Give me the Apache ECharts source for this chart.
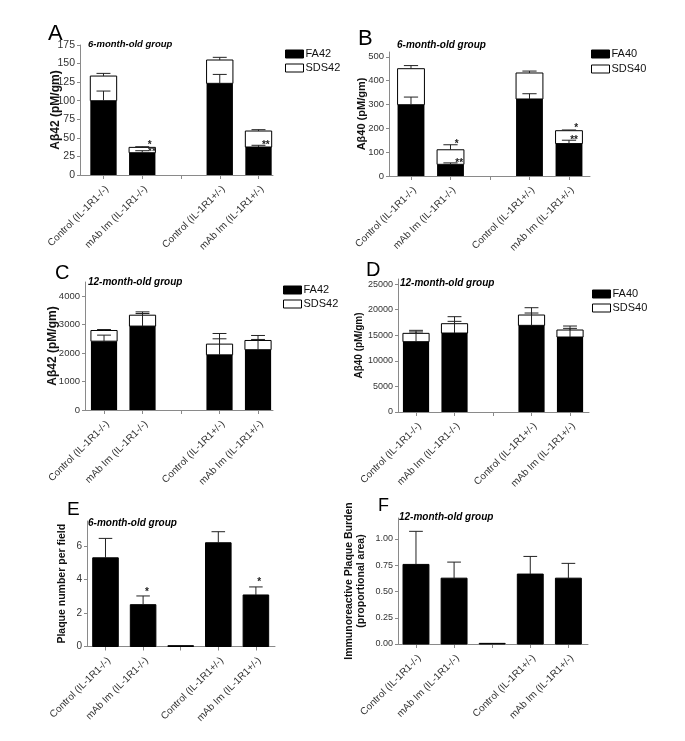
<!DOCTYPE html>
<html><head><meta charset="utf-8">
<script src="https://cdn.jsdelivr.net/npm/echarts@6/dist/echarts.min.js"></script>
<style>html,body{margin:0;padding:0;background:#fff}#c{width:685px;height:741px}</style>
</head><body><div id="c"></div>
<script>
// ---------- DATA ----------
const categories = ['Control (IL-1R1-/-)', 'mAb Im (IL-1R1-/-)', '', 'Control (IL-1R1+/-)', 'mAb Im (IL-1R1+/-)'];

// Panel A: 6-month-old, Abeta42 (pM/gm)
const aFA      = [100, 30, null, 123.4, 37.7];
const aFAerr   = [13, 2.7, null, 12, 2.3];
const aSDS     = [33.2, 7.2, null, 31.4, 21.5];
const aSDSerr  = [3.6, 0.9, null, 3.6, 1.8];
const aTicks   = [0, 25, 50, 75, 100, 125, 150, 175];
const aStars   = [[1.19, 40.4, '*'], [1.25, 30.6, '**'], [4.19, 40, '**']];

// Panel B: 6-month-old, Abeta40 (pM/gm)
const bFA      = [299, 49, null, 323, 136];
const bFAerr   = [32, 6, null, 22, 14];
const bSDS     = [151, 61, null, 109, 54];
const bSDSerr  = [13, 21, null, 8, 3];
const bTicks   = [0, 100, 200, 300, 400, 500];
const bStars   = [[1.16, 131.6, '*'], [1.22, 53, '**'], [4.18, 199.6, '*'], [4.13, 150.6, '**']];

// Panel C: 12-month-old, Abeta42 (pM/gm)
const cFA      = [2420, 2950, null, 1940, 2120];
const cFAerr   = [212, 442, null, 563, 360];
const cSDS     = [375, 383, null, 376, 324];
const cSDSerr  = [35, 117, null, 374, 176];
const cTicks   = [0, 1000, 2000, 3000, 4000];

// Panel D: 12-month-old, Abeta40 (pM/gm)
const dFA      = [13750, 15440, null, 16940, 14660];
const dFAerr   = [1900, 2280, null, 2410, 1690];
const dSDS     = [1625, 1824, null, 2018, 1366];
const dSDSerr  = [590, 1370, null, 1430, 780];
const dTicks   = [0, 5000, 10000, 15000, 20000, 25000];

// Panel E: 6-month-old, plaque number per field
const eMean    = [5.3, 2.5, 0.05, 6.2, 3.08];
const eErr     = [1.16, 0.52, 0, 0.66, 0.48];
const eTicks   = [0, 2, 4, 6];
const eStars   = [[1.1, 3.27, '*'], [4.09, 3.83, '*']];

// Panel F: 12-month-old, immunoreactive plaque burden
const fMean    = [0.758, 0.627, 0.006, 0.666, 0.627];
const fErr     = [0.315, 0.153, 0, 0.168, 0.141];
const fTicks   = [0, 0.25, 0.5, 0.75, 1.0];

// ---------- LAYOUT / STYLE ----------
const FONT = '"Liberation Sans", Arial, Helvetica, sans-serif';
const AX = '#8a8a8a';
const BAR_FRAC = 0.68, CAP_FRAC = 0.18;

const grids = [
  {left: 80,  top: 45,  width: 193, height: 130},
  {left: 389, top: 52,  width: 201, height: 124},
  {left: 85,  top: 282, width: 188, height: 128},
  {left: 398, top: 279, width: 191, height: 133},
  {left: 87,  top: 521, width: 188, height: 125.5},
  {left: 398, top: 518, width: 190, height: 126}
];
const xRanges = [[-0.606, 4.374], [-0.557, 4.532], [-0.494, 4.389], [-0.468, 4.493], [-0.492, 4.508], [-0.472, 4.515]];
const yCfg = [
  {max: 175,   ticks: aTicks, fs: 10.5, name: 'A\u03b242 (pM/gm)', nameSize: 12, gap: 18},
  {max: 520,   ticks: bTicks, fs: 9.5,  name: 'A\u03b240 (pM/gm)', nameSize: 11, gap: 21},
  {max: 4500,  ticks: cTicks, fs: 9.5,  name: 'A\u03b242 (pM/gm)', nameSize: 12, gap: 26},
  {max: 26000, ticks: dTicks, fs: 9,    name: 'A\u03b240 (pM/gm)', nameSize: 10, gap: 33},
  {max: 7.5,   ticks: eTicks, fs: 10,   name: 'Plaque number per field', nameSize: 10.5, gap: 19},
  {max: 1.2,   ticks: fTicks, fs: 9,    name: 'Immunoreactive Plaque Burden\n(proportional area)', nameSize: 10.5, gap: 31, fmt: v => v.toFixed(2)}
];

function rectItem(fill, stroke) {
  return function (params, api) {
    const x = api.value(0);
    const p0 = api.coord([x, api.value(1)]);
    const p1 = api.coord([x, api.value(2)]);
    const w = api.size([1, 0])[0] * BAR_FRAC;
    return {type: 'rect',
      shape: {x: p0[0] - w / 2, y: Math.min(p0[1], p1[1]), width: w, height: Math.abs(p0[1] - p1[1])},
      style: {fill: fill, stroke: stroke || null, lineWidth: stroke ? 1 : 0}};
  };
}
function errItem(params, api) {
  const x = api.value(0);
  const p0 = api.coord([x, api.value(1)]);
  const p1 = api.coord([x, api.value(2)]);
  const hw = api.size([1, 0])[0] * CAP_FRAC;
  return {type: 'group', children: [
    {type: 'line', shape: {x1: p0[0], y1: p0[1], x2: p1[0], y2: p1[1]}, style: {stroke: '#222', lineWidth: 1}},
    {type: 'line', shape: {x1: p1[0] - hw, y1: p1[1], x2: p1[0] + hw, y2: p1[1]}, style: {stroke: '#222', lineWidth: 1}}
  ]};
}
function starSeries(gi, stars) {
  return {type: 'custom', xAxisIndex: gi, yAxisIndex: gi, silent: true, z: 5,
    data: stars.map(s => [s[0], s[1]]),
    renderItem: function (params, api) {
      const p = api.coord([api.value(0), api.value(1)]);
      return {type: 'text', x: p[0], y: p[1],
        style: {text: stars[params.dataIndex][2], font: 'bold 10px ' + FONT, fill: '#222', align: 'center', verticalAlign: 'middle'}};
    }};
}
function stacked(gi, names, fa, faErr, sds, sdsErr, stars) {
  const faData = [], sdsData = [], errData = [];
  fa.forEach((v, i) => {
    if (v == null) return;
    const t = v + sds[i];
    faData.push([i, 0, v]);
    sdsData.push([i, v, t]);
    errData.push([i, v, v + faErr[i]]);
    errData.push([i, t, t + sdsErr[i]]);
  });
  const out = [
    {type: 'custom', name: names[0], xAxisIndex: gi, yAxisIndex: gi, data: faData, renderItem: rectItem('#000'), itemStyle: {color: '#000'}},
    {type: 'custom', name: names[1], xAxisIndex: gi, yAxisIndex: gi, data: sdsData, renderItem: rectItem('#fff', '#000'), itemStyle: {color: '#fff', borderColor: '#000'}},
    {type: 'custom', xAxisIndex: gi, yAxisIndex: gi, data: errData, renderItem: errItem, silent: true, z: 3}
  ];
  if (stars) out.push(starSeries(gi, stars));
  return out;
}
function simple(gi, mean, err, stars) {
  const bars = [], errs = [];
  mean.forEach((v, i) => { bars.push([i, 0, v]); if (err[i] > 0) errs.push([i, v, v + err[i]]); });
  const out = [
    {type: 'custom', xAxisIndex: gi, yAxisIndex: gi, data: bars, renderItem: rectItem('#000', '#000'), itemStyle: {color: '#000'}},
    {type: 'custom', xAxisIndex: gi, yAxisIndex: gi, data: errs, renderItem: errItem, silent: true, z: 3}
  ];
  if (stars) out.push(starSeries(gi, stars));
  return out;
}

const xAxes = grids.map((g, i) => ({
  type: 'value', gridIndex: i, min: xRanges[i][0], max: xRanges[i][1],
  axisLine: {show: true, onZero: false, lineStyle: {color: AX, width: 1}},
  axisTick: {show: true, customValues: [0, 1, 2, 3, 4], length: 4, lineStyle: {color: AX}},
  axisLabel: {customValues: [0, 1, 2, 3, 4], formatter: v => categories[Math.round(v)] || '',
    rotate: 45, verticalAlign: 'top', margin: 9, fontSize: 10, color: '#333', fontFamily: FONT},
  splitLine: {show: false}
}));
const yAxes = yCfg.map((c, i) => ({
  type: 'value', gridIndex: i, min: 0, max: c.max,
  axisLine: {show: true, onZero: false, lineStyle: {color: AX, width: 1}},
  axisTick: {show: true, customValues: c.ticks, length: 3, lineStyle: {color: AX}},
  axisLabel: {customValues: c.ticks, formatter: c.fmt || (v => String(v)), margin: 5, fontSize: c.fs, color: '#333', fontFamily: FONT},
  splitLine: {show: false},
  name: c.name, nameLocation: 'middle', nameGap: c.gap, nameMoveOverlap: false,
  nameTextStyle: {fontSize: c.nameSize, fontWeight: 'bold', color: '#111', fontFamily: FONT, lineHeight: 12, align: 'center'}
}));

function legend(left, top, gap, names) {
  return {left: left, top: top, orient: 'vertical', itemWidth: 18, itemHeight: 8, itemGap: gap, padding: 0,
    selectedMode: false, icon: 'rect',
    textStyle: {fontSize: 11, color: '#111', fontFamily: FONT, padding: [0, 0, 0, -3]},
    data: [
      {name: names[0], itemStyle: {color: '#000', borderColor: '#000', borderWidth: 1}},
      {name: names[1], itemStyle: {color: '#fff', borderColor: '#000', borderWidth: 1}}
    ]};
}

function txt(x, y, s, font) {
  return {type: 'text', x: x, y: y, silent: true,
    style: {text: s, font: font, fill: '#000', align: 'left', verticalAlign: 'middle'}};
}
const graphics = [
  txt(48, 33.5, 'A', '22px ' + FONT),
  txt(358, 38.5, 'B', '22px ' + FONT),
  txt(55, 273.5, 'C', '20px ' + FONT),
  txt(366, 270, 'D', '20px ' + FONT),
  txt(67, 510, 'E', '19px ' + FONT),
  txt(378, 506.5, 'F', '18px ' + FONT),
  txt(88, 44, '6-month-old group', 'italic bold 9.5px ' + FONT),
  txt(397, 45.5, '6-month-old group', 'italic bold 10px ' + FONT),
  txt(88, 282.5, '12-month-old group', 'italic bold 10px ' + FONT),
  txt(400, 283, '12-month-old group', 'italic bold 10px ' + FONT),
  txt(88, 523, '6-month-old group', 'italic bold 10px ' + FONT),
  txt(399, 517, '12-month-old group', 'italic bold 10px ' + FONT)
];

const series = [].concat(
  stacked(0, ['FA42', 'SDS42'], aFA, aFAerr, aSDS, aSDSerr, aStars),
  stacked(1, ['FA40', 'SDS40'], bFA, bFAerr, bSDS, bSDSerr, bStars),
  stacked(2, ['FA42', 'SDS42'], cFA, cFAerr, cSDS, cSDSerr, null),
  stacked(3, ['FA40', 'SDS40'], dFA, dFAerr, dSDS, dSDSerr, null),
  simple(4, eMean, eErr, eStars),
  simple(5, fMean, fErr, null)
);

const chart = echarts.init(document.getElementById('c'), null, {renderer: 'canvas'});
chart.setOption({
  backgroundColor: '#fff',
  animation: false,
  textStyle: {fontFamily: FONT},
  grid: grids,
  xAxis: xAxes,
  yAxis: yAxes,
  legend: [
    legend(285, 48.5, 3, ['FA42', 'SDS42']),
    legend(591, 48.5, 4, ['FA40', 'SDS40']),
    legend(283, 284.5, 3, ['FA42', 'SDS42']),
    legend(592, 288.5, 3, ['FA40', 'SDS40'])
  ],
  graphic: graphics,
  series: series
});
</script></body></html>
